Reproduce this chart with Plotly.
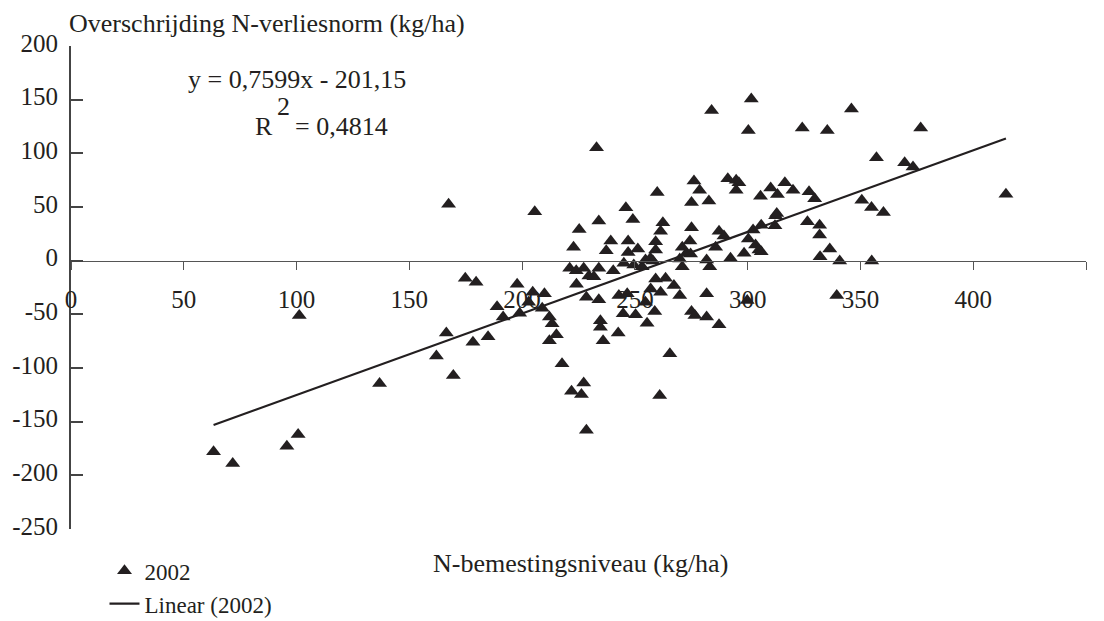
import plotly.graph_objects as go

# N application level (kg/ha) and exceedance of the N loss standard (kg/ha), 2002
n_level = [
    63.2, 71.7, 95.7, 100.7, 101.2, 136.8, 162.0, 166.4, 167.4, 169.5,
    174.8, 178.2, 179.6, 184.9, 188.9, 191.6, 197.8, 198.9, 202.9, 204.7,
    205.6, 208.9, 209.9, 212.1, 213.3, 212.1, 215.2, 217.7, 221.1, 221.9,
    222.8, 224.0, 224.1, 225.3, 226.3, 227.3, 227.3, 228.5, 228.5, 229.6,
    231.8, 233.0, 234.0, 234.0, 234.0, 234.7, 234.7, 235.9, 237.3, 239.3,
    240.4, 242.6, 242.9, 244.8, 245.1, 246.0, 246.6, 247.0, 247.0, 249.1,
    249.5, 250.3, 251.3, 253.2, 254.7, 254.7, 255.4, 256.9, 257.0, 258.0,
    258.8, 259.2, 259.2, 259.2, 259.9, 261.0, 261.4, 261.4, 262.4, 263.6,
    265.5, 267.3, 269.9, 269.9, 271.0, 271.0, 272.8, 274.7, 274.4, 275.1,
    275.1, 275.1, 276.2, 276.6, 278.7, 281.8, 283.2, 281.8, 281.8, 282.8,
    284.0, 285.8, 287.3, 287.3, 289.5, 291.2, 292.4, 294.9, 296.1, 294.9,
    298.4, 299.8, 300.3, 300.3, 301.6, 302.4, 303.5, 305.0, 306.0, 306.0,
    305.7, 310.2, 313.2, 316.5, 320.1, 312.9, 312.4, 312.1, 324.2, 326.5,
    327.2, 329.7, 331.9, 331.9, 332.1, 335.3, 336.4, 339.5, 340.8, 346.0,
    350.6, 354.9, 355.0, 357.1, 360.2, 369.6, 373.3, 376.7, 414.5,
]
exceedance = [
    -178.0, -189.0, -173.0, -162.0, -51.0, -114.5, -88.8, -67.5, 52.6, -107.0,
    -16.4, -76.0, -20.0, -70.9, -43.0, -52.6, -22.0, -48.9, -38.7, -29.4,
    45.5, -44.3, -30.9, -52.6, -58.8, -74.6, -69.0, -96.0, -7.1, -121.6,
    12.4, -9.3, -22.0, 29.1, -124.7, -7.1, -113.9, -34.0, -158.0, -14.2,
    -14.9, 105.2, 36.9, -7.1, -36.5, -56.0, -62.0, -74.6, 9.3, 18.3,
    -9.3, -67.5, -32.5, -49.5, -2.5, 49.2, -30.9, 18.3, 7.7, 38.4,
    -4.0, -50.4, 10.8, -5.6, 0.6, -38.7, -58.2, 2.2, -26.3, -0.3,
    -47.4, -17.0, 9.9, 17.6, 63.4, -125.6, -29.4, 27.5, 35.3, -16.4,
    -86.7, -23.2, -32.5, 1.5, 12.4, -5.6, 6.8, 6.2, 18.3, 30.6,
    54.1, -47.4, 74.3, -51.1, 65.6, 0.6, -5.6, -30.9, -52.6, 55.7,
    139.9, 12.4, 27.5, -59.7, 22.9, 76.4, 2.2, 74.9, 72.7, 65.6,
    6.8, -37.0, 20.1, 121.3, 150.7, 28.5, 14.6, 9.9, 8.4, 33.1,
    60.0, 67.8, 61.6, 72.7, 65.6, 43.9, 41.8, 32.5, 123.5, 36.2,
    64.1, 57.8, 33.1, 23.8, 3.7, 121.3, 10.9, -32.5, -0.3, 141.4,
    56.4, 49.5, -0.3, 95.9, 44.8, 91.3, 87.3, 123.5, 61.9,
]

# Linear trend as reported on the chart
slope = 0.7599
intercept = -201.15
r_squared = 0.4814

x_ticks = [0, 50, 100, 150, 200, 250, 300, 350, 400, 450]
y_ticks = [-250, -200, -150, -100, -50, 0, 50, 100, 150, 200]

FONT = "Liberation Serif, Times New Roman, serif"
INK = "#231f20"
FS = 25
FS_TEXT = 26

trend_x = [min(n_level), max(n_level)]
trend_y = [slope * v + intercept for v in trend_x]

fig = go.Figure()
fig.add_trace(go.Scatter(
    x=n_level, y=exceedance, mode="markers", name="2002",
    marker=dict(symbol="triangle-up", size=13, color=INK, line=dict(width=0)),
))
fig.add_trace(go.Scatter(
    x=trend_x, y=trend_y, mode="lines", name="Linear (2002)",
    line=dict(color=INK, width=2.2),
))

y_min, y_max = -250, 200
zero_pos = (0 - y_min) / (y_max - y_min)

fig.update_layout(
    width=1104, height=621,
    margin=dict(l=71, r=18, t=46, b=92, autoexpand=False),
    paper_bgcolor="white", plot_bgcolor="white",
    font=dict(family=FONT, size=FS, color=INK),
    showlegend=True,
    legend=dict(
        x=0.033, y=-0.042, xanchor="left", yanchor="top",
        font=dict(family=FONT, size=23, color=INK),
        bgcolor="rgba(0,0,0,0)", tracegroupgap=0,
    ),
    xaxis=dict(
        range=[0, 450], tickvals=x_ticks, ticktext=[str(v) for v in x_ticks],
        showgrid=False, zeroline=False,
        showline=True, linecolor="#555555", linewidth=1.3,
        ticks="outside", ticklen=8, tickwidth=1.3, tickcolor="#555555",
        anchor="free", position=zero_pos,
        tickfont=dict(family=FONT, size=FS, color=INK),
        ticklabelstandoff=8,
    ),
    yaxis=dict(
        range=[y_min, y_max], tickvals=y_ticks, ticktext=[str(v) for v in y_ticks],
        showgrid=False, zeroline=False,
        showline=True, linecolor="#444444", linewidth=2,
        ticks="inside", ticklen=12, tickwidth=1.5, tickcolor="#444444",
        tickfont=dict(family=FONT, size=FS, color=INK),
        ticklabelstandoff=6, ticklabelshift=-3,
    ),
)

def px_to_paper(px, py):
    return (px - 71) / 1015, (529 - py) / 483

annots = []
ax, ay = px_to_paper(297, 79)
annots.append(dict(text="y = 0,7599x - 201,15", x=ax, y=ay, xanchor="center", yanchor="middle"))
ax, ay = px_to_paper(263.5, 126)
annots.append(dict(text="R", x=ax, y=ay, xanchor="center", yanchor="middle"))
ax, ay = px_to_paper(283, 106)
annots.append(dict(text="2", x=ax, y=ay, xanchor="center", yanchor="middle"))
ax, ay = px_to_paper(293, 126)
annots.append(dict(text=f"= {str(r_squared).replace('.', ',')}", x=ax, y=ay, xanchor="left", yanchor="middle"))
ax, ay = px_to_paper(67, 24)
annots.append(dict(text="Overschrijding N-verliesnorm (kg/ha)", x=ax, y=ay, xanchor="left", yanchor="middle"))
ax, ay = px_to_paper(580, 563)
annots.append(dict(text="N-bemestingsniveau (kg/ha)", x=ax, y=ay, xanchor="center", yanchor="middle"))

for a in annots:
    a.update(xref="paper", yref="paper", showarrow=False,
             font=dict(family=FONT, size=FS_TEXT, color=INK))
fig.update_layout(annotations=annots)

fig.write_html("out.html")
